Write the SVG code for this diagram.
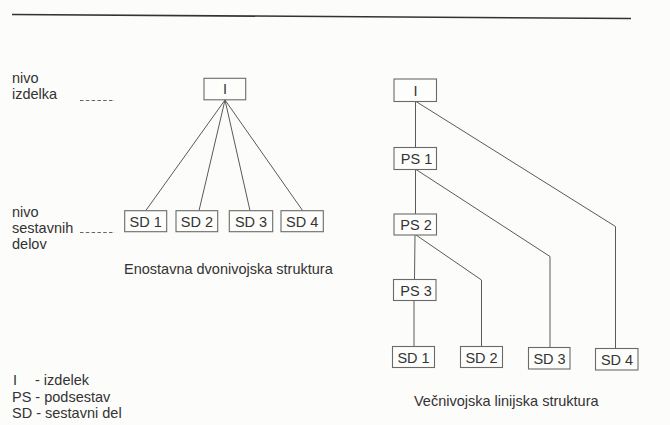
<svg xmlns="http://www.w3.org/2000/svg" width="670" height="425" viewBox="0 0 670 425">
<style>
  text { font-family: "Liberation Sans", Arial, sans-serif; font-size: 14.5px; fill: #333; }
  .c { text-anchor: middle; }
  .box { fill: #fdfdfb; stroke: #6a6a6a; stroke-width: 1.1; }
  .ln { fill: none; stroke: #5a5a5a; stroke-width: 1; }
  .dash { fill: none; stroke: #666; stroke-width: 1; stroke-dasharray: 3.5 2.3; }
</style>
<rect x="0" y="0" width="670" height="425" fill="#fcfcfa"/>
<line x1="12" y1="14.5" x2="631" y2="18.5" stroke="#333" stroke-width="1.6"/>

<!-- left level labels -->
<g id="label-nivo-izdelka">
  <text x="12" y="83">nivo</text>
  <text x="12" y="99">izdelka</text>
  <line class="dash" x1="80" y1="100.5" x2="115" y2="100.5"/>
</g>
<g id="label-nivo-delov">
  <text x="12" y="217">nivo</text>
  <text x="12" y="233">sestavnih</text>
  <text x="12" y="249">delov</text>
  <line class="dash" x1="80" y1="232.5" x2="115" y2="232.5"/>
</g>

<!-- connectors -->
<g id="connectors">
  <path class="ln" d="M225 100 L145.7 210.7"/>
  <path class="ln" d="M225 100 L199 210.7"/>
  <path class="ln" d="M225 100 L250 210.7"/>
  <path class="ln" d="M225 100 L302.7 210.7"/>

  <path class="ln" d="M415.5 101.5 L415.5 147.5"/>
  <path class="ln" d="M416 101.5 L615.5 226.5 L615.5 348.5"/>
  <path class="ln" d="M415.5 169.5 L415.5 214"/>
  <path class="ln" d="M416 169.5 L550 256.5 L550 347.5"/>
  <path class="ln" d="M415 235 L414.5 279.5"/>
  <path class="ln" d="M416 235 L481.5 280 L481.5 346.5"/>
  <path class="ln" d="M414 300.5 L414 346.5"/>
</g>

<!-- left tree -->
<g id="L-I"><rect class="box" x="204" y="78.3" width="41.7" height="21.5"/><text class="c" x="225" y="94">I</text></g>
<g id="L-SD1"><rect class="box" x="124.7" y="210.7" width="42" height="21"/><text class="c" x="145.7" y="227">SD 1</text></g>
<g id="L-SD2"><rect class="box" x="176" y="210.7" width="41.7" height="21"/><text class="c" x="196.9" y="227">SD 2</text></g>
<g id="L-SD3"><rect class="box" x="229.3" y="210.7" width="43.4" height="21"/><text class="c" x="251" y="227">SD 3</text></g>
<g id="L-SD4"><rect class="box" x="281" y="210.7" width="42.3" height="21"/><text class="c" x="302.2" y="227">SD 4</text></g>
<text x="124" y="273.5">Enostavna dvonivojska struktura</text>

<!-- right tree -->
<g id="R-I"><rect class="box" x="394" y="79" width="42.5" height="22.5"/><text class="c" x="415.5" y="95.5">I</text></g>
<g id="R-PS1"><rect class="box" x="394" y="147.5" width="42.5" height="22"/><text class="c" x="416.5" y="164">PS 1</text></g>
<g id="R-PS2"><rect class="box" x="394" y="214" width="42.5" height="21"/><text class="c" x="416" y="230">PS 2</text></g>
<g id="R-PS3"><rect class="box" x="393.5" y="279.5" width="42.5" height="21"/><text class="c" x="416" y="295.5">PS 3</text></g>
<g id="R-SD1"><rect class="box" x="392.5" y="346.5" width="42" height="21"/><text class="c" x="413.5" y="362.5">SD 1</text></g>
<g id="R-SD2"><rect class="box" x="460.5" y="346.5" width="42" height="21"/><text class="c" x="481.5" y="362.5">SD 2</text></g>
<g id="R-SD3"><rect class="box" x="528.5" y="347.5" width="41.5" height="21.5"/><text class="c" x="549.5" y="364">SD 3</text></g>
<g id="R-SD4"><rect class="box" x="595.5" y="348.5" width="42.5" height="21.5"/><text class="c" x="617" y="365">SD 4</text></g>
<text x="414" y="406">Večnivojska linijska struktura</text>

<!-- legend -->
<g id="legend">
  <text x="13" y="385">I</text>
  <text x="35" y="385">- izdelek</text>
  <text x="12" y="401.5">PS - podsestav</text>
  <text x="12" y="418">SD - sestavni del</text>
</g>
</svg>
